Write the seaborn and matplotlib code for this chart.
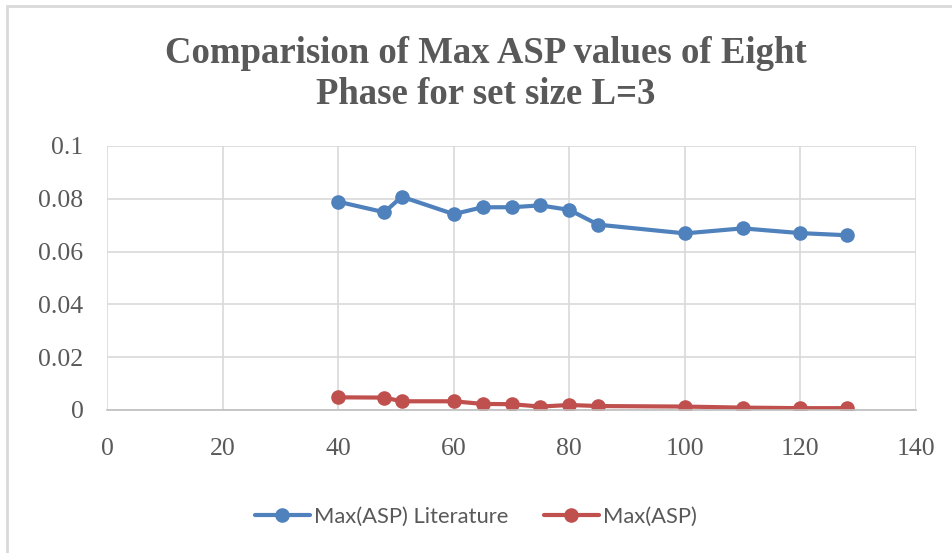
import matplotlib
matplotlib.use("Agg")
import matplotlib.pyplot as plt
import seaborn as sns
import pandas as pd

sns.set_style("whitegrid")

# values
set_sizes = [40, 48, 51, 60, 65, 70, 75, 80, 85, 100, 110, 120, 128]
asp_literature = [0.0789, 0.0749, 0.0808, 0.0742, 0.0768, 0.0768, 0.0775,
                  0.0758, 0.0702, 0.0669, 0.0688, 0.0670, 0.0662]
asp_max = [0.0048, 0.0047, 0.0033, 0.0033, 0.0023, 0.0022, 0.0013,
           0.0019, 0.0015, 0.0013, 0.0009, 0.0007, 0.0007]
x_ticks = [0, 20, 40, 60, 80, 100, 120, 140]
y_ticks = [0, 0.02, 0.04, 0.06, 0.08, 0.1]
y_tick_labels = ["0", "0.02", "0.04", "0.06", "0.08", "0.1"]

df = pd.DataFrame({
    "x": set_sizes * 2,
    "y": asp_literature + asp_max,
    "series": ["Max(ASP) Literature"] * len(set_sizes) + ["Max(ASP)"] * len(set_sizes),
})

blue = "#4f81bd"
red = "#c0504d"
text_gray = "#595959"
grid_gray = "#d9d9d9"

fig = plt.figure(figsize=(9.52, 5.53), dpi=100)
ax = fig.add_axes([107 / 952, 1 - 410 / 553, (916 - 107) / 952, (410 - 146) / 553])

sns.lineplot(data=df, x="x", y="y", hue="series", palette=[blue, red],
             marker="o", markersize=10.5, markeredgewidth=0, linewidth=3,
             ax=ax, legend=False)

ax.set_xlim(0, 140)
ax.set_ylim(0, 0.1)
ax.set_xticks(x_ticks)
ax.set_yticks(y_ticks)
ax.set_yticklabels(y_tick_labels)
ax.set_xlabel("")
ax.set_ylabel("")
ax.grid(True, color=grid_gray, linewidth=1.2)
for side in ["top", "right", "left"]:
    ax.spines[side].set_visible(False)
ax.spines["bottom"].set_color("#bfbfbf")
ax.spines["bottom"].set_linewidth(1.2)
ax.tick_params(length=0, labelcolor=text_gray)
ax.tick_params(axis="x", pad=20)
ax.tick_params(axis="y", pad=17)
for lab in ax.get_xticklabels() + ax.get_yticklabels():
    lab.set_family("Liberation Serif")
    lab.set_fontsize(18.5)

fig.text(486 / 952, 1 - 74 / 553, "Comparision of Max ASP values of Eight\nPhase for set size L=3",
         ha="center", va="center", family="Liberation Serif", fontweight="bold",
         fontsize=26.5, color=text_gray, linespacing=1.2)

handles = [
    plt.Line2D([], [], color=blue, marker="o", markersize=10.5, markeredgewidth=0, linewidth=3),
    plt.Line2D([], [], color=red, marker="o", markersize=10.5, markeredgewidth=0, linewidth=3),
]
fig.legend(handles, ["Max(ASP) Literature", "Max(ASP)"], loc="center",
           bbox_to_anchor=(0.5, 1 - 517 / 553), ncol=2, frameon=False,
           prop={"family": "Lato", "size": 15.8}, labelcolor=text_gray,
           handlelength=2.5, columnspacing=1.6, handletextpad=0.2)

fig.patches.append(plt.Rectangle((7 / 952, -0.05), 1.1, 1.05 - 6 / 553, transform=fig.transFigure,
                                 fill=False, edgecolor="#d9d9d9", linewidth=2))

fig.savefig("out.png", dpi=100)
